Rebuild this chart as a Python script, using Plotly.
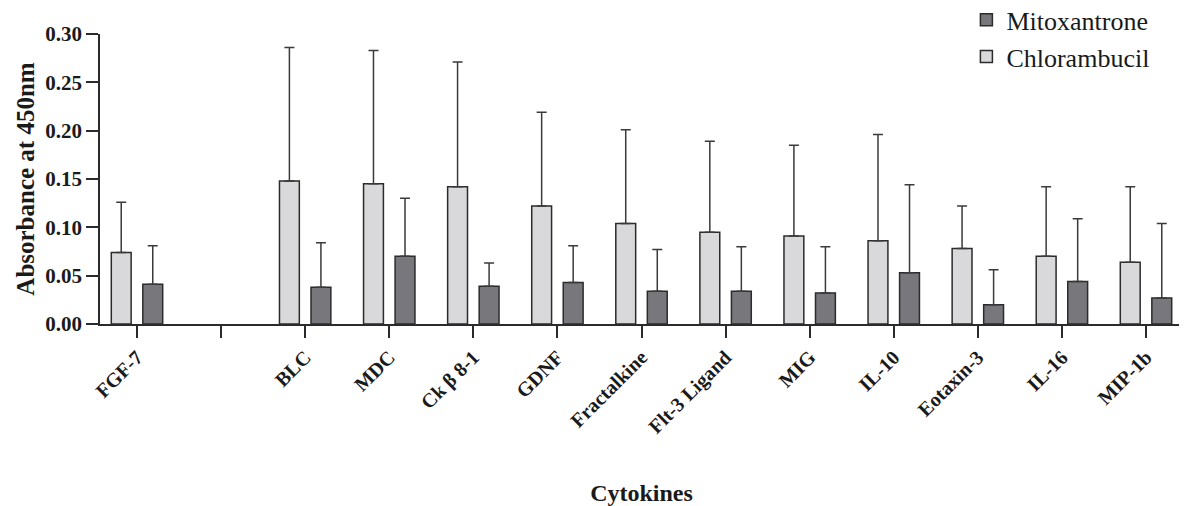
import plotly.graph_objects as go

categories = ["FGF-7", " ", "BLC", "MDC", "Ck \u03b2 8-1", "GDNF", "Fractalkine",
              "Flt-3 Ligand", "MIG", "IL-10", "Eotaxin-3", "IL-16", "MIP-1b"]

chlorambucil_mean = [0.074, None, 0.148, 0.145, 0.142, 0.122, 0.104, 0.095, 0.091, 0.086, 0.078, 0.070, 0.064]
chlorambucil_err = [0.052, None, 0.138, 0.138, 0.129, 0.097, 0.097, 0.094, 0.094, 0.110, 0.044, 0.072, 0.078]
mitoxantrone_mean = [0.041, None, 0.038, 0.070, 0.039, 0.043, 0.034, 0.034, 0.032, 0.053, 0.020, 0.044, 0.027]
mitoxantrone_err = [0.040, None, 0.046, 0.060, 0.024, 0.038, 0.043, 0.046, 0.048, 0.091, 0.036, 0.065, 0.077]

serif = "Liberation Serif"
outline = dict(color="#2b2b2b", width=1.5)

fig = go.Figure()
fig.add_trace(go.Bar(
    name="Chlorambucil", x=categories, y=chlorambucil_mean,
    marker=dict(color="#d9d9db", line=outline),
    error_y=dict(type="data", array=chlorambucil_err, symmetric=False,
                 arrayminus=[0] * len(categories), color="#3a3a3a", thickness=1.5, width=5),
    legendrank=2,
))
fig.add_trace(go.Bar(
    name="Mitoxantrone", x=categories, y=mitoxantrone_mean,
    marker=dict(color="#78787c", line=outline),
    error_y=dict(type="data", array=mitoxantrone_err, symmetric=False,
                 arrayminus=[0] * len(categories), color="#3a3a3a", thickness=1.5, width=5),
    legendrank=1,
))

fig.update_layout(
    width=1179, height=498,
    barmode="group", bargap=0.25, bargroupgap=0.37,
    plot_bgcolor="white", paper_bgcolor="white",
    margin=dict(l=92, r=4, t=26, b=182, autoexpand=False),
    font=dict(family=serif, color="#1a1a1a"),
    showlegend=True,
    legend=dict(x=0.80, y=1.13, xanchor="left", yanchor="top",
                font=dict(family=serif, size=26, weight="normal", color="#1a1a1a"),
                bgcolor="rgba(0,0,0,0)", itemwidth=30),
)
fig.update_xaxes(
    type="category", categoryorder="array", categoryarray=categories,
    range=[-0.44, 12.44], showline=True, linecolor="#2b2b2b", linewidth=1.5,
    ticks="outside", ticklen=12, tickwidth=1.5, tickcolor="#2b2b2b",
    tickangle=-45, tickfont=dict(family=serif, size=20, weight="bold", color="#1a1a1a"),
    showgrid=False, zeroline=False, automargin=False,
    title=dict(text="Cytokines", font=dict(family=serif, size=24, weight="bold", color="#1a1a1a"),
               standoff=50),
)
fig.update_yaxes(
    range=[0, 0.30], dtick=0.05, tickformat=".2f",
    showline=True, linecolor="#2b2b2b", linewidth=1.5,
    ticks="outside", ticklen=12, tickwidth=1.5, tickcolor="#2b2b2b",
    tickfont=dict(family=serif, size=21, weight="bold", color="#1a1a1a"),
    showgrid=False, zeroline=False, automargin=False,
    title=dict(text="Absorbance at 450nm", font=dict(family=serif, size=25, weight="bold", color="#1a1a1a"),
               standoff=4),
)

fig.write_html("out.html")
